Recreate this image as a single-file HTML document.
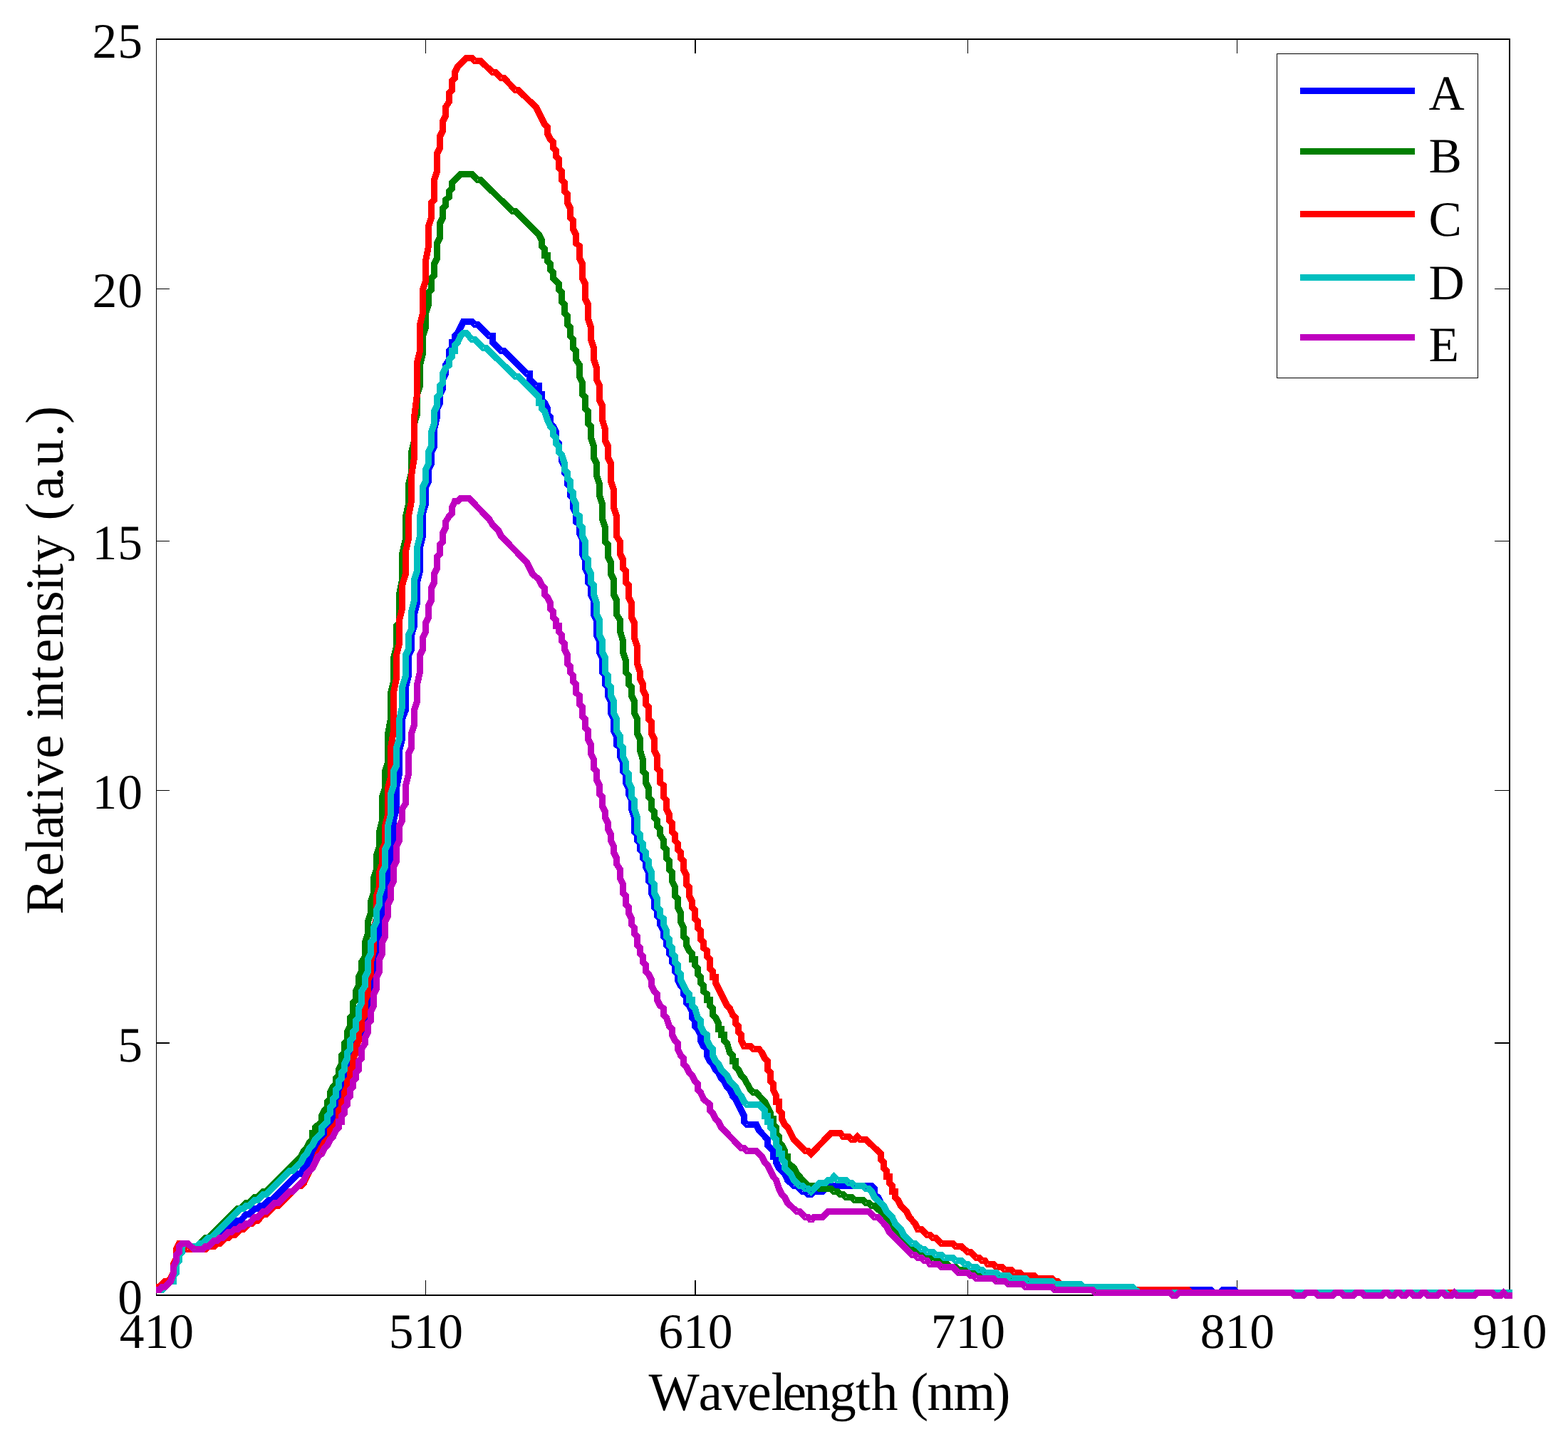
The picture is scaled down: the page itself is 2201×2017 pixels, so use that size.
<!DOCTYPE html>
<html lang="en"><head><meta charset="utf-8"><title>Relative intensity vs wavelength</title>
<style>html,body{margin:0;padding:0;background:#fff}svg{display:block}</style></head>
<body>
<svg xmlns="http://www.w3.org/2000/svg" width="2201" height="2017" viewBox="0 0 2201 2017">
<rect x="0" y="0" width="2201" height="2017" fill="#fff"/>
<g shape-rendering="crispEdges" fill="#000">
<rect x="219" y="54" width="1" height="1765"/>
<rect x="2118" y="54" width="2" height="1765"/>
<rect x="219" y="54" width="1901" height="2"/>
<rect x="219" y="1817" width="1901" height="2"/>
<rect x="597" y="1797" width="1" height="20"/>
<rect x="597" y="56" width="1" height="19"/>
<rect x="975" y="1797" width="2" height="20"/>
<rect x="975" y="56" width="2" height="19"/>
<rect x="1358" y="1797" width="1" height="20"/>
<rect x="1358" y="56" width="1" height="19"/>
<rect x="1736" y="1797" width="1" height="20"/>
<rect x="1736" y="56" width="1" height="19"/>
<rect x="220" y="1463" width="18" height="2"/>
<rect x="2098" y="1463" width="20" height="2"/>
<rect x="220" y="1109" width="18" height="1"/>
<rect x="2098" y="1109" width="20" height="1"/>
<rect x="220" y="759" width="18" height="1"/>
<rect x="2098" y="759" width="20" height="1"/>
<rect x="220" y="405" width="18" height="1"/>
<rect x="2098" y="405" width="20" height="1"/>
</g>
<g shape-rendering="crispEdges">
<polyline points="219,1810.5 227.5,1810.5 239.5,1798.5 243.5,1798.5 243.5,1790.5 247.5,1786.5 247.5,1774.5 251.5,1769.5 251.5,1753.5 255.5,1745.5 259.5,1745.5 263.5,1753.5 284.5,1753.5 296.5,1741.5 300.5,1741.5 320.5,1721.5 324.5,1721.5 333.5,1713.5 337.5,1713.5 345.5,1704.5 349.5,1704.5 357.5,1696.5 361.5,1696.5 365.5,1692.5 369.5,1692.5 377.5,1684.5 381.5,1684.5 418.5,1647.5 422.5,1647.5 426.5,1639.5 430.5,1635.5 438.5,1619.5 442.5,1615.5 446.5,1607.5 455.5,1599.5 455.5,1590.5 459.5,1590.5 459.5,1582.5 463.5,1574.5 467.5,1570.5 467.5,1562.5 471.5,1558.5 471.5,1550.5 475.5,1546.5 475.5,1538.5 479.5,1533.5 479.5,1521.5 483.5,1517.5 483.5,1509.5 487.5,1505.5 487.5,1497.5 491.5,1489.5 495.5,1485.5 495.5,1477.5 499.5,1472.5 499.5,1464.5 503.5,1460.5 503.5,1452.5 507.5,1448.5 507.5,1440.5 512.5,1440.5 512.5,1432.5 516.5,1428.5 516.5,1403.5 520.5,1395.5 520.5,1371.5 524.5,1363.5 524.5,1342.5 528.5,1334.5 528.5,1318.5 532.5,1310.5 532.5,1293.5 536.5,1285.5 536.5,1269.5 540.5,1261.5 540.5,1241.5 544.5,1232.5 544.5,1212.5 548.5,1204.5 548.5,1184.5 552.5,1175.5 552.5,1151.5 556.5,1135.5 556.5,1106.5 560.5,1086.5 560.5,1053.5 564.5,1037.5 564.5,1009.5 569.5,996.5 569.5,964.5 573.5,948.5 573.5,919.5 577.5,911.5 577.5,891.5 581.5,878.5 581.5,862.5 585.5,846.5 585.5,817.5 589.5,801.5 589.5,768.5 593.5,752.5 593.5,720.5 597.5,707.5 597.5,683.5 601.5,675.5 601.5,659.5 605.5,650.5 605.5,634.5 609.5,626.5 609.5,602.5 613.5,585.5 613.5,573.5 617.5,565.5 617.5,553.5 621.5,545.5 621.5,532.5 625.5,524.5 625.5,512.5 630.5,504.5 630.5,492.5 634.5,488.5 634.5,480.5 638.5,480.5 638.5,471.5 642.5,467.5 650.5,451.5 662.5,451.5 666.5,455.5 670.5,455.5 686.5,471.5 691.5,471.5 691.5,480.5 703.5,492.5 707.5,492.5 739.5,524.5 743.5,524.5 743.5,532.5 752.5,541.5 756.5,541.5 756.5,553.5 760.5,553.5 760.5,561.5 764.5,565.5 768.5,573.5 768.5,581.5 772.5,585.5 772.5,594.5 776.5,598.5 780.5,606.5 780.5,618.5 784.5,622.5 784.5,634.5 788.5,638.5 788.5,646.5 792.5,655.5 792.5,663.5 796.5,667.5 796.5,679.5 800.5,683.5 800.5,695.5 804.5,699.5 804.5,712.5 808.5,720.5 808.5,732.5 813.5,736.5 813.5,748.5 817.5,756.5 817.5,777.5 821.5,785.5 821.5,797.5 825.5,805.5 825.5,817.5 829.5,821.5 829.5,834.5 833.5,842.5 833.5,862.5 837.5,870.5 837.5,891.5 841.5,899.5 841.5,915.5 845.5,923.5 845.5,943.5 849.5,948.5 849.5,960.5 853.5,964.5 853.5,976.5 857.5,984.5 857.5,1000.5 861.5,1009.5 861.5,1025.5 865.5,1033.5 865.5,1045.5 870.5,1049.5 870.5,1061.5 874.5,1070.5 874.5,1082.5 878.5,1086.5 878.5,1098.5 882.5,1106.5 882.5,1114.5 886.5,1123.5 886.5,1135.5 890.5,1147.5 890.5,1167.5 894.5,1171.5 894.5,1179.5 898.5,1184.5 898.5,1192.5 902.5,1196.5 902.5,1204.5 906.5,1208.5 906.5,1216.5 910.5,1224.5 910.5,1236.5 914.5,1241.5 914.5,1253.5 918.5,1261.5 918.5,1273.5 922.5,1277.5 922.5,1285.5 926.5,1289.5 926.5,1297.5 931.5,1306.5 931.5,1314.5 935.5,1318.5 935.5,1326.5 939.5,1330.5 939.5,1338.5 943.5,1342.5 943.5,1350.5 947.5,1354.5 947.5,1363.5 951.5,1367.5 951.5,1375.5 955.5,1383.5 959.5,1387.5 959.5,1395.5 963.5,1399.5 963.5,1407.5 967.5,1411.5 971.5,1420.5 971.5,1428.5 975.5,1432.5 975.5,1440.5 979.5,1444.5 983.5,1452.5 983.5,1460.5 987.5,1468.5 992.5,1472.5 992.5,1481.5 996.5,1489.5 1000.5,1493.5 1004.5,1501.5 1008.5,1505.5 1012.5,1513.5 1016.5,1517.5 1020.5,1525.5 1024.5,1529.5 1028.5,1538.5 1032.5,1542.5 1044.5,1566.5 1044.5,1574.5 1048.5,1578.5 1061.5,1578.5 1065.5,1586.5 1077.5,1599.5 1077.5,1607.5 1085.5,1615.5 1085.5,1623.5 1089.5,1623.5 1089.5,1631.5 1093.5,1639.5 1101.5,1647.5 1105.5,1656.5 1114.5,1664.5 1118.5,1664.5 1126.5,1672.5 1130.5,1672.5 1134.5,1676.5 1138.5,1676.5 1142.5,1672.5 1154.5,1672.5 1162.5,1664.5 1223.5,1664.5 1227.5,1668.5 1227.5,1676.5 1232.5,1680.5 1236.5,1688.5 1240.5,1692.5 1244.5,1700.5 1252.5,1708.5 1256.5,1717.5 1264.5,1725.5 1268.5,1733.5 1280.5,1745.5 1284.5,1745.5 1293.5,1753.5 1297.5,1753.5 1301.5,1757.5 1309.5,1757.5 1313.5,1761.5 1321.5,1761.5 1325.5,1765.5 1337.5,1765.5 1341.5,1769.5 1349.5,1769.5 1354.5,1774.5 1358.5,1774.5 1362.5,1778.5 1370.5,1778.5 1374.5,1782.5 1378.5,1782.5 1382.5,1786.5 1398.5,1786.5 1402.5,1790.5 1415.5,1790.5 1419.5,1794.5 1439.5,1794.5 1443.5,1798.5 1476.5,1798.5 1480.5,1802.5 1516.5,1802.5 1520.5,1806.5 1589.5,1806.5 1594.5,1810.5 1699.5,1810.5 1703.5,1814.5 1711.5,1814.5 1716.5,1810.5 1732.5,1810.5 1736.5,1814.5 2118.5,1814.5 2122.5,1814.5" fill="none" stroke="#0000ff" stroke-width="9" stroke-linejoin="miter" stroke-miterlimit="1.6" stroke-linecap="butt"/>
<polyline points="219,1810.5 223.5,1810.5 227.5,1806.5 231.5,1806.5 239.5,1798.5 247.5,1782.5 247.5,1769.5 251.5,1765.5 251.5,1757.5 255.5,1749.5 259.5,1745.5 263.5,1745.5 268.5,1749.5 276.5,1749.5 288.5,1737.5 292.5,1737.5 333.5,1696.5 337.5,1696.5 345.5,1688.5 349.5,1688.5 357.5,1680.5 361.5,1680.5 369.5,1672.5 373.5,1672.5 422.5,1623.5 426.5,1615.5 430.5,1611.5 434.5,1603.5 438.5,1599.5 438.5,1590.5 442.5,1590.5 442.5,1582.5 451.5,1574.5 451.5,1566.5 455.5,1558.5 459.5,1554.5 459.5,1546.5 463.5,1542.5 463.5,1533.5 467.5,1525.5 471.5,1521.5 471.5,1513.5 475.5,1509.5 475.5,1501.5 479.5,1493.5 479.5,1481.5 483.5,1477.5 483.5,1464.5 487.5,1460.5 487.5,1448.5 491.5,1440.5 491.5,1428.5 495.5,1424.5 495.5,1407.5 499.5,1403.5 499.5,1391.5 503.5,1383.5 503.5,1371.5 507.5,1363.5 507.5,1350.5 512.5,1342.5 512.5,1322.5 516.5,1310.5 516.5,1293.5 520.5,1281.5 520.5,1265.5 524.5,1253.5 524.5,1232.5 528.5,1220.5 528.5,1200.5 532.5,1188.5 532.5,1167.5 536.5,1151.5 536.5,1118.5 540.5,1106.5 540.5,1082.5 544.5,1070.5 544.5,1029.5 548.5,1009.5 548.5,972.5 552.5,956.5 552.5,923.5 556.5,907.5 556.5,878.5 560.5,874.5 560.5,834.5 564.5,813.5 564.5,777.5 569.5,756.5 569.5,724.5 573.5,707.5 573.5,679.5 577.5,663.5 577.5,634.5 581.5,618.5 581.5,594.5 585.5,581.5 585.5,553.5 589.5,541.5 589.5,512.5 593.5,496.5 593.5,471.5 597.5,459.5 597.5,439.5 601.5,427.5 601.5,410.5 605.5,406.5 605.5,390.5 609.5,386.5 609.5,370.5 613.5,362.5 613.5,341.5 617.5,333.5 617.5,313.5 621.5,305.5 621.5,292.5 625.5,288.5 625.5,280.5 630.5,276.5 630.5,268.5 634.5,264.5 634.5,256.5 646.5,244.5 662.5,244.5 670.5,252.5 674.5,252.5 719.5,296.5 723.5,296.5 756.5,329.5 760.5,337.5 760.5,345.5 764.5,349.5 764.5,358.5 768.5,358.5 768.5,366.5 772.5,370.5 772.5,378.5 776.5,382.5 776.5,390.5 784.5,398.5 784.5,406.5 788.5,410.5 788.5,423.5 792.5,427.5 792.5,439.5 796.5,443.5 796.5,455.5 800.5,459.5 800.5,471.5 804.5,476.5 804.5,488.5 808.5,492.5 808.5,504.5 813.5,512.5 813.5,528.5 817.5,537.5 817.5,553.5 821.5,557.5 821.5,573.5 825.5,577.5 825.5,594.5 829.5,598.5 829.5,614.5 833.5,626.5 833.5,642.5 837.5,650.5 837.5,667.5 841.5,679.5 841.5,695.5 845.5,707.5 845.5,728.5 849.5,740.5 849.5,760.5 853.5,764.5 853.5,781.5 857.5,789.5 857.5,805.5 861.5,813.5 861.5,834.5 865.5,842.5 865.5,862.5 870.5,870.5 870.5,886.5 874.5,899.5 874.5,915.5 878.5,927.5 878.5,943.5 882.5,948.5 882.5,960.5 886.5,964.5 886.5,976.5 890.5,984.5 890.5,1000.5 894.5,1009.5 894.5,1029.5 898.5,1037.5 898.5,1053.5 902.5,1066.5 902.5,1082.5 906.5,1086.5 906.5,1098.5 910.5,1106.5 910.5,1118.5 914.5,1123.5 914.5,1135.5 918.5,1139.5 918.5,1147.5 922.5,1151.5 922.5,1159.5 926.5,1163.5 926.5,1171.5 931.5,1179.5 931.5,1188.5 935.5,1192.5 935.5,1204.5 939.5,1208.5 939.5,1220.5 943.5,1224.5 943.5,1236.5 947.5,1245.5 947.5,1257.5 951.5,1261.5 951.5,1273.5 955.5,1281.5 955.5,1293.5 959.5,1302.5 959.5,1314.5 963.5,1318.5 963.5,1326.5 967.5,1334.5 971.5,1338.5 971.5,1346.5 975.5,1346.5 975.5,1354.5 979.5,1359.5 979.5,1367.5 983.5,1371.5 983.5,1379.5 987.5,1383.5 987.5,1391.5 992.5,1395.5 992.5,1403.5 996.5,1403.5 996.5,1411.5 1000.5,1415.5 1000.5,1424.5 1004.5,1428.5 1008.5,1436.5 1008.5,1444.5 1012.5,1444.5 1012.5,1452.5 1016.5,1452.5 1016.5,1460.5 1020.5,1464.5 1024.5,1477.5 1028.5,1481.5 1028.5,1489.5 1032.5,1489.5 1032.5,1497.5 1036.5,1501.5 1040.5,1509.5 1044.5,1513.5 1053.5,1529.5 1057.5,1533.5 1061.5,1533.5 1073.5,1546.5 1081.5,1562.5 1081.5,1570.5 1085.5,1570.5 1085.5,1578.5 1089.5,1582.5 1089.5,1590.5 1093.5,1595.5 1093.5,1603.5 1097.5,1607.5 1101.5,1615.5 1101.5,1623.5 1105.5,1623.5 1105.5,1631.5 1114.5,1639.5 1118.5,1647.5 1134.5,1664.5 1146.5,1664.5 1150.5,1668.5 1166.5,1668.5 1170.5,1672.5 1175.5,1672.5 1179.5,1676.5 1183.5,1676.5 1187.5,1680.5 1195.5,1680.5 1199.5,1684.5 1211.5,1684.5 1215.5,1688.5 1219.5,1688.5 1223.5,1692.5 1227.5,1692.5 1244.5,1708.5 1248.5,1717.5 1260.5,1729.5 1264.5,1737.5 1284.5,1757.5 1288.5,1757.5 1293.5,1761.5 1297.5,1761.5 1301.5,1765.5 1305.5,1765.5 1309.5,1769.5 1317.5,1769.5 1321.5,1774.5 1329.5,1774.5 1333.5,1778.5 1341.5,1778.5 1345.5,1782.5 1358.5,1782.5 1362.5,1786.5 1374.5,1786.5 1378.5,1790.5 1390.5,1790.5 1394.5,1794.5 1410.5,1794.5 1415.5,1798.5 1439.5,1798.5 1443.5,1802.5 1471.5,1802.5 1476.5,1806.5 1512.5,1806.5 1516.5,1810.5 1545.5,1810.5 1549.5,1814.5 2118.5,1814.5 2122.5,1814.5" fill="none" stroke="#007f00" stroke-width="9" stroke-linejoin="miter" stroke-miterlimit="1.6" stroke-linecap="butt"/>
<polyline points="219,1806.5 223.5,1806.5 231.5,1798.5 235.5,1798.5 239.5,1794.5 243.5,1786.5 243.5,1774.5 247.5,1765.5 247.5,1753.5 251.5,1745.5 255.5,1745.5 263.5,1753.5 288.5,1753.5 292.5,1749.5 300.5,1749.5 304.5,1745.5 308.5,1745.5 316.5,1737.5 320.5,1737.5 324.5,1733.5 329.5,1733.5 337.5,1725.5 341.5,1725.5 349.5,1717.5 353.5,1717.5 357.5,1713.5 361.5,1713.5 369.5,1704.5 373.5,1704.5 385.5,1692.5 390.5,1692.5 418.5,1664.5 422.5,1664.5 426.5,1660.5 434.5,1643.5 438.5,1639.5 442.5,1631.5 446.5,1619.5 455.5,1603.5 463.5,1595.5 463.5,1586.5 471.5,1578.5 475.5,1570.5 475.5,1558.5 479.5,1554.5 479.5,1546.5 483.5,1542.5 483.5,1533.5 487.5,1525.5 487.5,1517.5 491.5,1513.5 491.5,1501.5 495.5,1497.5 495.5,1485.5 499.5,1477.5 499.5,1468.5 503.5,1460.5 503.5,1448.5 507.5,1444.5 507.5,1432.5 512.5,1424.5 512.5,1403.5 516.5,1395.5 516.5,1375.5 520.5,1367.5 520.5,1350.5 524.5,1334.5 524.5,1302.5 528.5,1289.5 528.5,1257.5 532.5,1245.5 532.5,1224.5 536.5,1212.5 536.5,1192.5 540.5,1184.5 540.5,1159.5 544.5,1143.5 544.5,1106.5 548.5,1090.5 548.5,1049.5 552.5,1025.5 552.5,972.5 556.5,952.5 556.5,919.5 560.5,903.5 560.5,870.5 564.5,854.5 564.5,821.5 569.5,805.5 569.5,773.5 573.5,756.5 573.5,724.5 577.5,703.5 577.5,667.5 581.5,642.5 581.5,585.5 585.5,553.5 585.5,508.5 589.5,492.5 589.5,455.5 593.5,439.5 593.5,406.5 597.5,394.5 597.5,366.5 601.5,345.5 601.5,317.5 605.5,305.5 605.5,284.5 609.5,280.5 609.5,252.5 613.5,240.5 613.5,215.5 617.5,207.5 617.5,191.5 621.5,183.5 621.5,170.5 625.5,162.5 625.5,150.5 630.5,142.5 630.5,130.5 634.5,126.5 634.5,113.5 638.5,109.5 638.5,101.5 642.5,93.5 654.5,81.5 662.5,81.5 666.5,85.5 674.5,85.5 691.5,101.5 695.5,101.5 703.5,109.5 707.5,109.5 723.5,126.5 727.5,126.5 752.5,150.5 764.5,174.5 768.5,178.5 768.5,187.5 772.5,195.5 776.5,199.5 776.5,207.5 780.5,211.5 780.5,219.5 784.5,223.5 784.5,235.5 788.5,240.5 788.5,252.5 792.5,256.5 792.5,268.5 796.5,272.5 796.5,284.5 800.5,292.5 800.5,305.5 804.5,309.5 804.5,321.5 808.5,329.5 808.5,341.5 813.5,345.5 813.5,362.5 817.5,370.5 817.5,390.5 821.5,398.5 821.5,419.5 825.5,427.5 825.5,447.5 829.5,459.5 829.5,476.5 833.5,488.5 833.5,504.5 837.5,516.5 837.5,532.5 841.5,541.5 841.5,561.5 845.5,569.5 845.5,589.5 849.5,602.5 849.5,618.5 853.5,626.5 853.5,642.5 857.5,650.5 857.5,675.5 861.5,687.5 861.5,712.5 865.5,724.5 865.5,752.5 870.5,760.5 870.5,777.5 874.5,785.5 874.5,797.5 878.5,801.5 878.5,817.5 882.5,821.5 882.5,838.5 886.5,846.5 886.5,866.5 890.5,874.5 890.5,895.5 894.5,907.5 894.5,931.5 898.5,943.5 898.5,952.5 902.5,960.5 902.5,968.5 906.5,976.5 906.5,988.5 910.5,992.5 910.5,1009.5 914.5,1013.5 914.5,1029.5 918.5,1037.5 918.5,1053.5 922.5,1061.5 922.5,1078.5 926.5,1082.5 926.5,1098.5 931.5,1102.5 931.5,1118.5 935.5,1123.5 935.5,1135.5 939.5,1143.5 939.5,1151.5 943.5,1155.5 943.5,1167.5 947.5,1171.5 947.5,1179.5 951.5,1184.5 951.5,1192.5 955.5,1196.5 955.5,1204.5 959.5,1208.5 959.5,1220.5 963.5,1228.5 963.5,1241.5 967.5,1245.5 967.5,1257.5 971.5,1265.5 971.5,1273.5 975.5,1277.5 975.5,1289.5 979.5,1293.5 979.5,1302.5 983.5,1306.5 983.5,1318.5 987.5,1322.5 987.5,1330.5 992.5,1334.5 992.5,1342.5 996.5,1346.5 996.5,1359.5 1000.5,1363.5 1000.5,1371.5 1004.5,1371.5 1004.5,1379.5 1020.5,1411.5 1024.5,1415.5 1028.5,1424.5 1032.5,1428.5 1032.5,1436.5 1036.5,1440.5 1036.5,1448.5 1040.5,1452.5 1040.5,1460.5 1044.5,1468.5 1053.5,1468.5 1057.5,1472.5 1065.5,1472.5 1069.5,1477.5 1073.5,1485.5 1077.5,1489.5 1077.5,1501.5 1081.5,1505.5 1081.5,1517.5 1085.5,1521.5 1085.5,1529.5 1089.5,1538.5 1089.5,1546.5 1093.5,1546.5 1093.5,1558.5 1097.5,1562.5 1097.5,1570.5 1101.5,1578.5 1105.5,1582.5 1114.5,1599.5 1130.5,1615.5 1134.5,1615.5 1138.5,1619.5 1166.5,1590.5 1179.5,1590.5 1183.5,1595.5 1191.5,1595.5 1195.5,1599.5 1199.5,1599.5 1203.5,1595.5 1207.5,1599.5 1215.5,1599.5 1236.5,1619.5 1236.5,1627.5 1240.5,1631.5 1240.5,1639.5 1244.5,1643.5 1244.5,1651.5 1248.5,1651.5 1248.5,1660.5 1252.5,1664.5 1252.5,1672.5 1256.5,1672.5 1256.5,1680.5 1260.5,1684.5 1264.5,1692.5 1272.5,1700.5 1276.5,1708.5 1284.5,1717.5 1288.5,1725.5 1293.5,1725.5 1301.5,1733.5 1305.5,1733.5 1309.5,1737.5 1313.5,1737.5 1321.5,1745.5 1337.5,1745.5 1341.5,1749.5 1349.5,1749.5 1358.5,1757.5 1362.5,1757.5 1370.5,1765.5 1374.5,1765.5 1378.5,1769.5 1382.5,1769.5 1386.5,1774.5 1394.5,1774.5 1398.5,1778.5 1406.5,1778.5 1410.5,1782.5 1419.5,1782.5 1423.5,1786.5 1431.5,1786.5 1435.5,1790.5 1451.5,1790.5 1455.5,1794.5 1476.5,1794.5 1480.5,1798.5 1484.5,1798.5 1488.5,1802.5 1512.5,1802.5 1516.5,1806.5 1553.5,1806.5 1557.5,1810.5 1667.5,1810.5 1671.5,1814.5 2118.5,1814.5 2122.5,1814.5" fill="none" stroke="#ff0000" stroke-width="9" stroke-linejoin="miter" stroke-miterlimit="1.6" stroke-linecap="butt"/>
<polyline points="219,1810.5 227.5,1810.5 239.5,1798.5 243.5,1798.5 243.5,1790.5 247.5,1786.5 247.5,1774.5 251.5,1769.5 251.5,1761.5 255.5,1757.5 255.5,1749.5 259.5,1745.5 263.5,1745.5 268.5,1749.5 276.5,1749.5 280.5,1745.5 284.5,1745.5 292.5,1737.5 296.5,1737.5 337.5,1696.5 341.5,1696.5 345.5,1692.5 349.5,1692.5 357.5,1684.5 361.5,1684.5 369.5,1676.5 373.5,1676.5 406.5,1643.5 410.5,1643.5 422.5,1631.5 426.5,1623.5 430.5,1619.5 434.5,1611.5 438.5,1607.5 442.5,1599.5 451.5,1590.5 451.5,1582.5 459.5,1574.5 459.5,1566.5 463.5,1562.5 463.5,1554.5 467.5,1550.5 467.5,1542.5 471.5,1538.5 471.5,1529.5 475.5,1525.5 475.5,1517.5 479.5,1513.5 479.5,1505.5 483.5,1501.5 483.5,1493.5 487.5,1485.5 487.5,1477.5 491.5,1472.5 491.5,1460.5 495.5,1456.5 495.5,1448.5 499.5,1444.5 499.5,1432.5 503.5,1428.5 503.5,1415.5 507.5,1407.5 507.5,1391.5 512.5,1383.5 512.5,1371.5 516.5,1363.5 516.5,1346.5 520.5,1338.5 520.5,1322.5 524.5,1318.5 524.5,1302.5 528.5,1293.5 528.5,1277.5 532.5,1269.5 532.5,1257.5 536.5,1245.5 536.5,1224.5 540.5,1216.5 540.5,1192.5 544.5,1184.5 544.5,1159.5 548.5,1143.5 548.5,1114.5 552.5,1102.5 552.5,1082.5 556.5,1074.5 556.5,1049.5 560.5,1037.5 560.5,1009.5 564.5,992.5 564.5,964.5 569.5,948.5 569.5,919.5 573.5,911.5 573.5,891.5 577.5,882.5 577.5,858.5 581.5,842.5 581.5,813.5 585.5,801.5 585.5,768.5 589.5,752.5 589.5,724.5 593.5,707.5 593.5,683.5 597.5,675.5 597.5,659.5 601.5,650.5 601.5,634.5 605.5,626.5 605.5,606.5 609.5,594.5 609.5,577.5 613.5,569.5 613.5,557.5 617.5,553.5 617.5,541.5 621.5,537.5 621.5,524.5 625.5,516.5 630.5,512.5 630.5,504.5 634.5,500.5 634.5,492.5 638.5,492.5 638.5,484.5 642.5,480.5 646.5,471.5 650.5,467.5 654.5,467.5 662.5,476.5 666.5,476.5 678.5,488.5 682.5,488.5 723.5,528.5 727.5,528.5 756.5,557.5 756.5,565.5 760.5,565.5 760.5,573.5 764.5,577.5 768.5,589.5 772.5,598.5 776.5,602.5 776.5,610.5 780.5,614.5 780.5,622.5 784.5,626.5 784.5,634.5 788.5,638.5 792.5,650.5 792.5,659.5 796.5,663.5 796.5,671.5 800.5,675.5 800.5,687.5 804.5,691.5 804.5,699.5 808.5,707.5 808.5,720.5 813.5,724.5 813.5,736.5 817.5,740.5 817.5,752.5 821.5,760.5 821.5,781.5 825.5,785.5 825.5,797.5 829.5,805.5 829.5,817.5 833.5,821.5 833.5,834.5 837.5,846.5 837.5,862.5 841.5,870.5 841.5,891.5 845.5,899.5 845.5,915.5 849.5,923.5 849.5,943.5 853.5,948.5 853.5,960.5 857.5,964.5 857.5,976.5 861.5,984.5 861.5,1000.5 865.5,1009.5 865.5,1025.5 870.5,1033.5 870.5,1045.5 874.5,1049.5 874.5,1061.5 878.5,1070.5 878.5,1082.5 882.5,1086.5 882.5,1098.5 886.5,1106.5 886.5,1118.5 890.5,1123.5 890.5,1135.5 894.5,1147.5 894.5,1167.5 898.5,1171.5 898.5,1179.5 902.5,1184.5 902.5,1192.5 906.5,1196.5 906.5,1204.5 910.5,1208.5 910.5,1216.5 914.5,1224.5 914.5,1236.5 918.5,1241.5 918.5,1253.5 922.5,1261.5 922.5,1273.5 926.5,1277.5 926.5,1285.5 931.5,1289.5 931.5,1297.5 935.5,1306.5 935.5,1314.5 939.5,1318.5 939.5,1326.5 943.5,1330.5 943.5,1338.5 947.5,1342.5 947.5,1350.5 951.5,1354.5 951.5,1363.5 955.5,1367.5 955.5,1375.5 963.5,1391.5 967.5,1395.5 967.5,1403.5 971.5,1403.5 971.5,1411.5 975.5,1415.5 979.5,1428.5 983.5,1432.5 983.5,1440.5 987.5,1448.5 992.5,1452.5 992.5,1460.5 996.5,1468.5 1000.5,1472.5 1000.5,1481.5 1004.5,1489.5 1008.5,1493.5 1012.5,1501.5 1020.5,1509.5 1024.5,1517.5 1032.5,1525.5 1036.5,1533.5 1040.5,1538.5 1044.5,1546.5 1048.5,1550.5 1065.5,1550.5 1073.5,1558.5 1073.5,1566.5 1077.5,1566.5 1077.5,1574.5 1081.5,1574.5 1081.5,1582.5 1085.5,1586.5 1085.5,1595.5 1089.5,1599.5 1089.5,1607.5 1093.5,1611.5 1093.5,1619.5 1097.5,1619.5 1097.5,1627.5 1101.5,1631.5 1101.5,1639.5 1109.5,1647.5 1114.5,1656.5 1122.5,1664.5 1126.5,1664.5 1130.5,1668.5 1134.5,1668.5 1138.5,1672.5 1150.5,1660.5 1158.5,1660.5 1162.5,1656.5 1166.5,1656.5 1170.5,1651.5 1175.5,1656.5 1187.5,1656.5 1191.5,1660.5 1195.5,1660.5 1199.5,1664.5 1211.5,1664.5 1215.5,1668.5 1219.5,1668.5 1223.5,1672.5 1227.5,1680.5 1240.5,1692.5 1244.5,1700.5 1252.5,1708.5 1256.5,1717.5 1264.5,1725.5 1268.5,1733.5 1280.5,1745.5 1284.5,1745.5 1293.5,1753.5 1297.5,1753.5 1301.5,1757.5 1309.5,1757.5 1313.5,1761.5 1321.5,1761.5 1325.5,1765.5 1337.5,1765.5 1341.5,1769.5 1349.5,1769.5 1354.5,1774.5 1358.5,1774.5 1362.5,1778.5 1370.5,1778.5 1374.5,1782.5 1378.5,1782.5 1382.5,1786.5 1398.5,1786.5 1402.5,1790.5 1415.5,1790.5 1419.5,1794.5 1439.5,1794.5 1443.5,1798.5 1476.5,1798.5 1480.5,1802.5 1516.5,1802.5 1520.5,1806.5 1589.5,1806.5 1598.5,1814.5 2029.5,1814.5 2033.5,1818.5 2037.5,1818.5 2041.5,1814.5 2118.5,1814.5 2122.5,1814.5" fill="none" stroke="#00bfbf" stroke-width="9" stroke-linejoin="miter" stroke-miterlimit="1.6" stroke-linecap="butt"/>
<polyline points="219,1810.5 223.5,1810.5 227.5,1806.5 231.5,1806.5 239.5,1798.5 243.5,1786.5 243.5,1778.5 247.5,1769.5 247.5,1761.5 251.5,1757.5 251.5,1749.5 255.5,1745.5 263.5,1745.5 272.5,1753.5 284.5,1753.5 288.5,1749.5 292.5,1749.5 300.5,1741.5 304.5,1741.5 308.5,1737.5 312.5,1737.5 320.5,1729.5 324.5,1729.5 329.5,1725.5 333.5,1725.5 337.5,1721.5 341.5,1721.5 345.5,1717.5 349.5,1717.5 357.5,1708.5 361.5,1708.5 369.5,1700.5 373.5,1700.5 385.5,1688.5 390.5,1688.5 406.5,1672.5 410.5,1672.5 426.5,1656.5 430.5,1647.5 438.5,1639.5 446.5,1623.5 451.5,1619.5 455.5,1611.5 459.5,1607.5 463.5,1599.5 467.5,1595.5 471.5,1586.5 475.5,1582.5 475.5,1574.5 479.5,1574.5 479.5,1566.5 483.5,1562.5 483.5,1554.5 487.5,1550.5 487.5,1542.5 491.5,1538.5 491.5,1529.5 495.5,1525.5 495.5,1517.5 499.5,1513.5 499.5,1505.5 503.5,1501.5 503.5,1489.5 507.5,1485.5 507.5,1472.5 512.5,1464.5 512.5,1456.5 516.5,1448.5 516.5,1436.5 520.5,1432.5 520.5,1420.5 524.5,1411.5 524.5,1395.5 528.5,1387.5 528.5,1371.5 532.5,1363.5 532.5,1346.5 536.5,1338.5 536.5,1322.5 540.5,1314.5 540.5,1293.5 544.5,1285.5 544.5,1269.5 548.5,1261.5 548.5,1245.5 552.5,1236.5 552.5,1216.5 556.5,1208.5 556.5,1188.5 560.5,1179.5 560.5,1159.5 564.5,1151.5 564.5,1135.5 569.5,1127.5 569.5,1102.5 573.5,1086.5 573.5,1057.5 577.5,1049.5 577.5,1029.5 581.5,1017.5 581.5,996.5 585.5,984.5 585.5,960.5 589.5,943.5 589.5,919.5 593.5,911.5 593.5,895.5 597.5,886.5 597.5,874.5 601.5,866.5 601.5,850.5 605.5,842.5 605.5,825.5 609.5,817.5 609.5,805.5 613.5,797.5 613.5,781.5 617.5,777.5 617.5,764.5 621.5,760.5 621.5,748.5 625.5,740.5 625.5,732.5 630.5,724.5 634.5,720.5 634.5,712.5 638.5,703.5 642.5,703.5 646.5,699.5 658.5,699.5 686.5,728.5 691.5,736.5 699.5,744.5 703.5,752.5 739.5,789.5 747.5,805.5 756.5,813.5 760.5,821.5 764.5,825.5 764.5,834.5 768.5,838.5 772.5,846.5 772.5,854.5 776.5,858.5 776.5,866.5 780.5,870.5 780.5,878.5 784.5,878.5 784.5,886.5 788.5,891.5 788.5,899.5 792.5,903.5 792.5,911.5 796.5,919.5 796.5,931.5 800.5,935.5 800.5,943.5 804.5,948.5 804.5,956.5 808.5,960.5 808.5,972.5 813.5,976.5 813.5,988.5 817.5,992.5 817.5,1005.5 821.5,1009.5 821.5,1021.5 825.5,1025.5 825.5,1037.5 829.5,1045.5 829.5,1057.5 833.5,1066.5 833.5,1078.5 837.5,1082.5 837.5,1094.5 841.5,1102.5 841.5,1114.5 845.5,1118.5 845.5,1131.5 849.5,1139.5 849.5,1147.5 853.5,1155.5 853.5,1163.5 857.5,1171.5 857.5,1179.5 861.5,1188.5 861.5,1196.5 865.5,1204.5 865.5,1212.5 870.5,1220.5 870.5,1232.5 874.5,1241.5 874.5,1253.5 878.5,1257.5 878.5,1269.5 882.5,1273.5 882.5,1281.5 886.5,1289.5 886.5,1297.5 890.5,1302.5 890.5,1310.5 894.5,1314.5 894.5,1326.5 898.5,1330.5 898.5,1338.5 902.5,1342.5 902.5,1350.5 906.5,1354.5 906.5,1363.5 910.5,1367.5 914.5,1375.5 914.5,1383.5 918.5,1391.5 922.5,1395.5 922.5,1403.5 926.5,1411.5 931.5,1415.5 931.5,1424.5 935.5,1428.5 939.5,1440.5 943.5,1444.5 943.5,1452.5 947.5,1460.5 951.5,1464.5 951.5,1472.5 955.5,1481.5 959.5,1485.5 959.5,1493.5 963.5,1497.5 967.5,1505.5 971.5,1509.5 975.5,1517.5 979.5,1521.5 979.5,1529.5 983.5,1533.5 987.5,1542.5 996.5,1550.5 996.5,1558.5 1000.5,1562.5 1004.5,1570.5 1008.5,1574.5 1012.5,1582.5 1040.5,1611.5 1044.5,1611.5 1048.5,1615.5 1061.5,1615.5 1069.5,1623.5 1073.5,1631.5 1077.5,1635.5 1085.5,1651.5 1089.5,1656.5 1093.5,1668.5 1097.5,1676.5 1101.5,1680.5 1105.5,1688.5 1118.5,1700.5 1122.5,1700.5 1130.5,1708.5 1134.5,1708.5 1138.5,1713.5 1142.5,1708.5 1154.5,1708.5 1162.5,1700.5 1219.5,1700.5 1227.5,1708.5 1232.5,1708.5 1244.5,1721.5 1248.5,1729.5 1280.5,1761.5 1284.5,1761.5 1288.5,1765.5 1293.5,1765.5 1297.5,1769.5 1301.5,1769.5 1305.5,1774.5 1317.5,1774.5 1321.5,1778.5 1337.5,1778.5 1345.5,1786.5 1358.5,1786.5 1362.5,1790.5 1366.5,1790.5 1370.5,1794.5 1394.5,1794.5 1398.5,1798.5 1410.5,1798.5 1415.5,1802.5 1435.5,1802.5 1439.5,1806.5 1476.5,1806.5 1480.5,1810.5 1533.5,1810.5 1537.5,1814.5 1642.5,1814.5 1646.5,1818.5 1650.5,1818.5 1655.5,1814.5 1813.5,1814.5 1817.5,1818.5 1829.5,1818.5 1833.5,1814.5 1846.5,1814.5 1850.5,1818.5 1870.5,1818.5 1874.5,1814.5 1882.5,1814.5 1886.5,1818.5 1899.5,1818.5 1903.5,1814.5 1911.5,1814.5 1915.5,1818.5 1939.5,1818.5 1943.5,1814.5 1947.5,1814.5 1951.5,1818.5 1956.5,1818.5 1960.5,1814.5 1964.5,1814.5 1968.5,1818.5 1972.5,1818.5 1976.5,1814.5 1980.5,1814.5 1984.5,1818.5 1992.5,1818.5 1996.5,1814.5 2000.5,1814.5 2004.5,1818.5 2017.5,1818.5 2021.5,1814.5 2025.5,1814.5 2029.5,1818.5 2037.5,1818.5 2041.5,1814.5 2045.5,1818.5 2069.5,1818.5 2073.5,1814.5 2094.5,1814.5 2098.5,1818.5 2106.5,1818.5 2110.5,1814.5 2114.5,1818.5 2118.5,1818.5 2122.5,1818.5" fill="none" stroke="#bf00bf" stroke-width="9" stroke-linejoin="miter" stroke-miterlimit="1.6" stroke-linecap="butt"/>
</g>
<g shape-rendering="crispEdges">
<rect x="1792.5" y="75.5" width="282" height="455" fill="#fff" stroke="#000" stroke-width="1.4"/>
<rect x="1825" y="122.9" width="161" height="8.8" fill="#0000ff"/>
<rect x="1825" y="208" width="161" height="8.8" fill="#007f00"/>
<rect x="1825" y="296.1" width="161" height="8.8" fill="#ff0000"/>
<rect x="1825" y="385" width="161" height="8.8" fill="#00bfbf"/>
<rect x="1825" y="469" width="161" height="8.8" fill="#bf00bf"/>
</g>
<g font-family="Liberation Serif, Times New Roman, serif" fill="#000" style="font-kerning:none" text-rendering="geometricPrecision">
<text x="2005.5" y="153.6" font-size="69.5">A</text>
<text x="2005.5" y="241.9" font-size="69.5">B</text>
<text x="2005.5" y="330.6" font-size="69.5">C</text>
<text x="2005.5" y="419.5" font-size="69.5">D</text>
<text x="2005.5" y="507" font-size="69.5">E</text>
<text x="219.9" y="1892.3" font-size="69.5" text-anchor="middle">410</text>
<text x="597.9" y="1892.3" font-size="69.5" text-anchor="middle">510</text>
<text x="976.4" y="1892.3" font-size="69.5" text-anchor="middle">610</text>
<text x="1358.9" y="1892.3" font-size="69.5" text-anchor="middle">710</text>
<text x="1736.9" y="1892.3" font-size="69.5" text-anchor="middle">810</text>
<text x="2119.4" y="1892.3" font-size="69.5" text-anchor="middle">910</text>
<text x="165.2" y="1843.6" font-size="69.5">0</text>
<text x="165.2" y="1489.6" font-size="69.5">5</text>
<text x="129.5 165.2" y="1135" font-size="69.5">10</text>
<text x="129.5 165.2" y="785" font-size="69.5">15</text>
<text x="129.5 165.2" y="431" font-size="69.5">20</text>
<text x="129.5 165.2" y="81" font-size="69.5">25</text>
<text x="910.6 980.4 1012.8 1049.2 1082.4 1098.5 1128.5 1164 1201 1222.7 1260 1278 1301.4 1338.4 1393.3" y="1979" font-size="75.5">Wavelength (nm)</text>
<text transform="translate(87.7,0) rotate(-90)" x="-1283.7 -1229.8 -1195.9 -1177.5 -1147.1 -1124.3 -1103.1 -1064.7 -1029.5 -1010.9 -993.4 -955.9 -930.3 -895.9 -858.8 -830.2 -811.7 -789.1 -749.5 -730.6 -701.6 -674.1 -654.6 -613.2 -595.1" y="0" font-size="75.5">Relative intensity (a.u.)</text>
</g>
</svg>
</body></html>
